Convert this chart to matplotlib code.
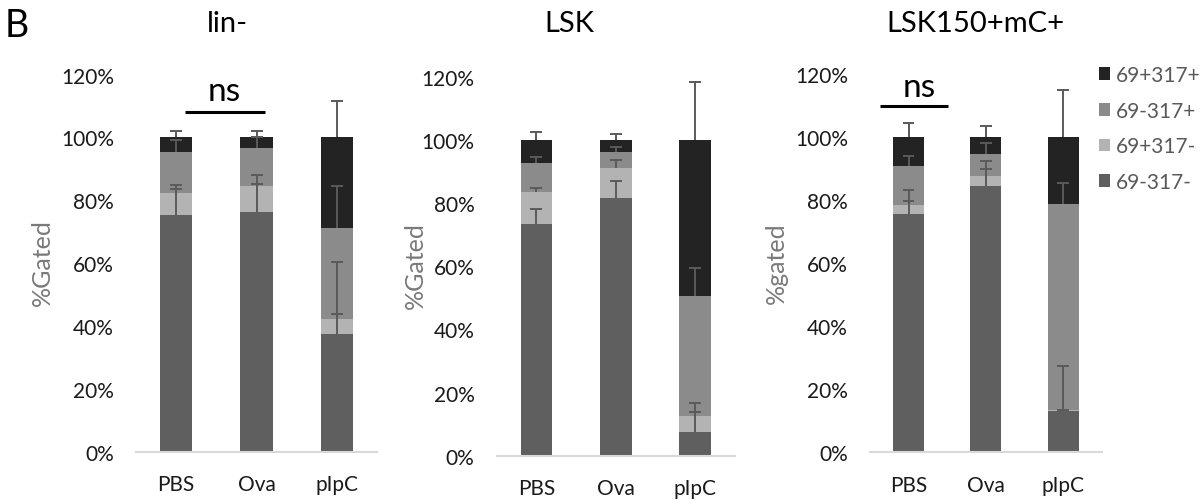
import matplotlib
matplotlib.use("Agg")
import matplotlib.pyplot as plt
import numpy as np

plt.rcParams['font.family'] = ['Lato', 'DejaVu Sans']

categories = ['PBS', 'Ova', 'pIpC']
series_names = ['69-317-', '69+317-', '69-317+', '69+317+']
yticks = [0, 20, 40, 60, 80, 100, 120]

# lin-
lin_s1 = [75.4, 76.4, 37.5]
lin_s2 = [6.9, 8.1, 4.8]
lin_s3 = [13.1, 12.0, 28.9]
lin_s4 = [4.6, 3.5, 28.8]
lin_e1 = [8.2, 8.8, 6.3]
lin_e2 = [2.6, 3.5, 18.0]
lin_e3 = [3.8, 3.5, 13.4]
lin_e4 = [2.0, 1.9, 11.6]

# LSK
lsk_s1 = [73.4, 81.6, 7.6]
lsk_s2 = [10.3, 9.5, 5.1]
lsk_s3 = [9.0, 5.2, 37.8]
lsk_s4 = [7.3, 3.7, 49.5]
lsk_e1 = [4.7, 5.4, 6.3]
lsk_e2 = [1.1, 2.6, 3.9]
lsk_e3 = [1.8, 1.6, 9.0]
lsk_e4 = [2.4, 1.9, 18.3]

# LSK150+mC+
mc_s1 = [75.7, 84.6, 13.0]
mc_s2 = [2.8, 3.2, 0.3]
mc_s3 = [12.3, 6.9, 65.5]
mc_s4 = [9.2, 5.3, 21.2]
mc_e1 = [4.2, 5.3, 14.3]
mc_e2 = [4.8, 4.6, 0.2]
mc_e3 = [3.2, 3.4, 6.7]
mc_e4 = [4.5, 3.6, 15.1]

colors = ['#5f5f5f', '#b3b3b3', '#8b8b8b', '#232323']
err_color = '#5a5a5a'

fig = plt.figure(figsize=(12.03, 5.02), dpi=100)

panels = [
    dict(title='lin-', ylabel='%Gated', s=[lin_s1, lin_s2, lin_s3, lin_s4],
         e=[lin_e1, lin_e2, lin_e3, lin_e4],
         rect=[0.1131, 0.0976, 0.2003, 0.752], title_x=227, ylabel_x=42, ylabel_y=263,
         ns=dict(x0=0.11, x1=1.106, y=108.2, tx=0.595, ty=112.0)),
    dict(title='LSK', ylabel='%Gated', s=[lsk_s1, lsk_s2, lsk_s3, lsk_s4],
         e=[lsk_e1, lsk_e2, lsk_e3, lsk_e4],
         rect=[0.4129, 0.0902, 0.1981, 0.7546], title_x=569, ylabel_x=415, ylabel_y=266,
         ns=None),
    dict(title='LSK150+mC+', ylabel='%gated', s=[mc_s1, mc_s2, mc_s3, mc_s4],
         e=[mc_e1, mc_e2, mc_e3, mc_e4],
         rect=[0.7232, 0.0970, 0.1926, 0.753], title_x=975, ylabel_x=776, ylabel_y=263,
         ns=dict(x0=-0.37, x1=0.506, y=110.0, tx=0.138, ty=113.2)),
]

W, H = 1203, 502
cap_half = 0.075
handles = None
for p in panels:
    ax = fig.add_axes(p['rect'])
    x = np.arange(len(categories))
    bottom = np.zeros(len(categories))
    hs = []
    tops = []
    for vals, c, name in zip(p['s'], colors, series_names):
        b = ax.bar(x, vals, width=0.4, bottom=bottom, color=c, label=name,
                   linewidth=0, zorder=2)
        hs.append(b)
        bottom = bottom + np.array(vals)
        tops.append(bottom.copy())
    for top, err in zip(tops, p['e']):
        err = np.array(err)
        ax.vlines(x, top, top + err, color=err_color, lw=1.4, zorder=3)
        ax.hlines(top + err, x - cap_half, x + cap_half, color=err_color, lw=1.4, zorder=3)
    handles = hs
    ax.set_xlim(-0.5, 2.5)
    ax.set_ylim(0, 120)
    ax.set_yticks(yticks)
    ax.set_yticklabels([f'{v}%' for v in yticks], fontsize=15, color='#1a1a1a')
    ax.set_xticks(x)
    ax.set_xticklabels(categories, fontsize=15, color='#1a1a1a')
    ax.tick_params(axis='both', length=0)
    ax.tick_params(axis='y', pad=16)
    ax.tick_params(axis='x', pad=16)
    for sp in ['top', 'right', 'left']:
        ax.spines[sp].set_visible(False)
    ax.spines['bottom'].set_color('#d9d9d9')
    ax.spines['bottom'].set_linewidth(1.5)
    ax.spines['bottom'].set_zorder(4)
    if p['ns']:
        n = p['ns']
        ax.plot([n['x0'], n['x1']], [n['y'], n['y']], color='black', lw=2.2,
                clip_on=False, solid_capstyle='butt')
        ax.text(n['tx'], n['ty'], 'ns', fontsize=24, ha='center', va='baseline', color='black')
    fig.text(p['title_x'] / W, 1 - 31.7 / H, p['title'], fontsize=21, ha='center',
             va='baseline', color='black')
    fig.text(p['ylabel_x'] / W, 1 - p['ylabel_y'] / H, p['ylabel'], fontsize=18,
             rotation=90, ha='center', va='center', color='#7a7a7a')

fig.text(5 / W, 1 - 36.7 / H, 'B', fontsize=27, ha='left', va='baseline', color='black')

fig.legend(handles[::-1], series_names[::-1], loc='upper left',
           bbox_to_anchor=(1099 / W, 1 - 66 / H), frameon=False, fontsize=15,
           handlelength=0.55, handleheight=0.55, handletextpad=0.25,
           labelspacing=0.75, borderpad=0, borderaxespad=0, labelcolor='#595959')

fig.savefig('out.png', dpi=100)
